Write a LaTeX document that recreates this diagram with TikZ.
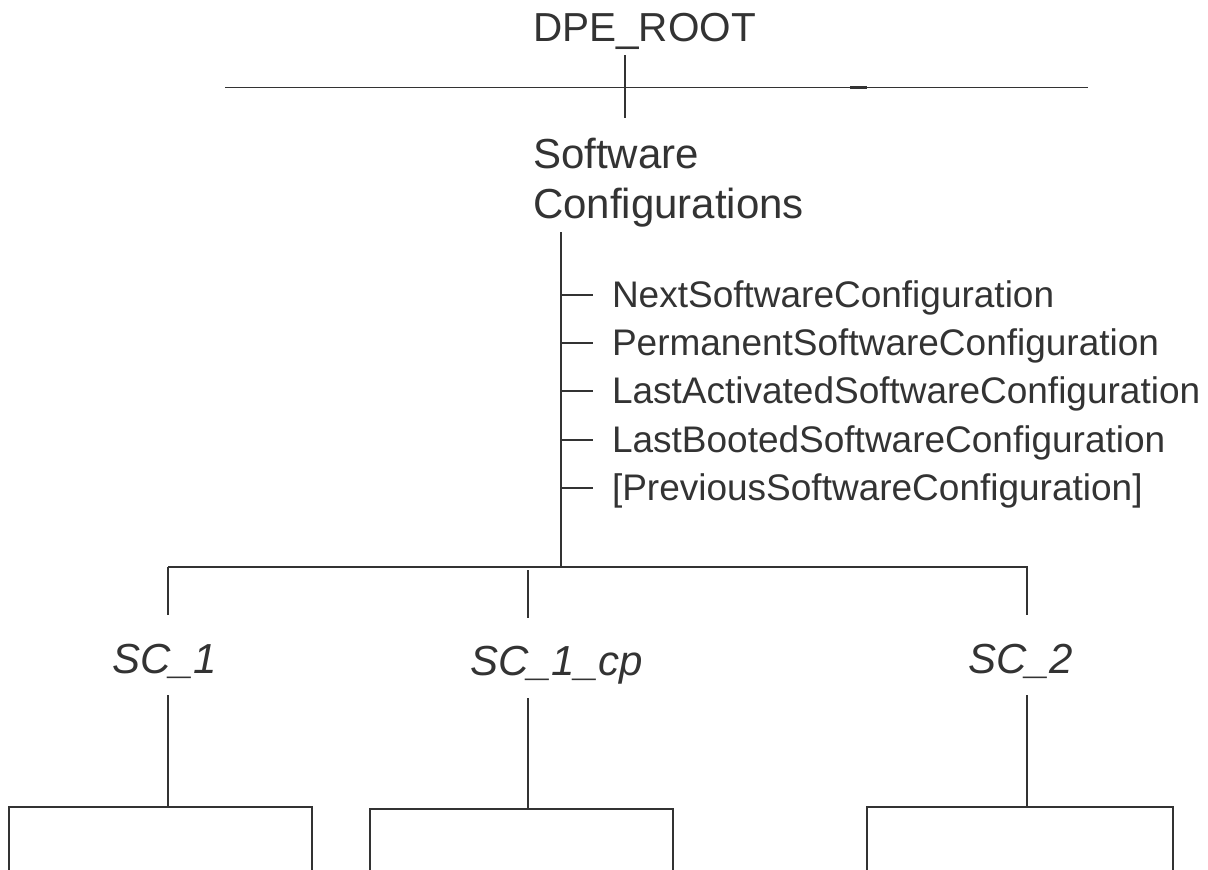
\documentclass[tikz,border=0pt]{standalone}
\usepackage{fontspec}
\setmainfont{Liberation Sans}
\definecolor{ink}{HTML}{333333}
\tikzset{
  lbl/.style={inner sep=0pt, outer sep=0pt, text=ink, anchor=base west},
  big/.style={font=\fontsize{42}{50}\selectfont},
  rootfont/.style={font=\fontsize{40.5}{48}\selectfont},
  itemfont/.style={font=\fontsize{37}{45}\selectfont},
  scfont/.style={font=\fontsize{42}{50}\selectfont\itshape},
  ln/.style={draw=ink, line width=1.6pt},
  box/.style={draw=ink, line width=1.8pt, inner sep=0pt, outer sep=0pt,
              minimum width=303pt, minimum height=120pt, anchor=north west},
}
\begin{document}
\begin{tikzpicture}[x=1pt,y=-1pt]
\clip (0,0) rectangle (1208,870);
% root
\node[lbl, rootfont] (root) at (533,41) {DPE\_ROOT};
\coordinate (hl) at (225,87.5);
\coordinate (hr) at (1088,87.5);
\draw[ln] (hl) -- (hr);
\coordinate (mk1) at (850,87.5);
\coordinate (mk2) at (867,87.5);
\draw[ln, line width=2.6pt] (mk1) -- (mk2);
\coordinate (rs) at (625,55);
\coordinate (re) at (625,118);
\draw[ln] (rs) -- (re);
% software configurations (base = baseline of last line)
\node[lbl, big, align=left] (sc) at (533,218) {Software\\Configurations};
\coordinate (st) at (561,232);
\coordinate (sb) at (561,567);
\draw[ln] (st) -- (sb);
% list items
\foreach \y/\name/\txt in {295/i1/NextSoftwareConfiguration,
                           343/i2/PermanentSoftwareConfiguration,
                           391/i3/LastActivatedSoftwareConfiguration,
                           440/i4/LastBootedSoftwareConfiguration,
                           488/i5/{[PreviousSoftwareConfiguration]}}{
  \node[lbl, itemfont] (\name) at (612,\y+12) {\txt};
  \coordinate (t\name) at (561,\y);
  \draw[ln] (t\name) -- ++(32,0);
}
% bar
\coordinate (bl) at (168,567);
\coordinate (br) at (1028,567);
\draw[ln] (bl) -- (br);
% labels
\node[lbl, scfont] (sc1) at (112,673) {SC\_1};
\node[lbl, scfont] (sc1cp) at (470,675) {SC\_1\_cp};
\node[lbl, scfont] (sc2) at (968,673) {SC\_2};
% drops
\coordinate (d1a) at (168,567);  \coordinate (d1b) at (168,615);
\coordinate (d2a) at (528,570);  \coordinate (d2b) at (528,618);
\coordinate (d3a) at (1027,567); \coordinate (d3b) at (1027,615);
\draw[ln] (d1a) -- (d1b);
\draw[ln] (d2a) -- (d2b);
\draw[ln] (d3a) -- (d3b);
% boxes
\node[box] (b1) at (9,807) {};
\node[box] (b2) at (370,809) {};
\node[box, minimum width=306pt] (b3) at (867,807) {};
\coordinate (e1) at (168,695);
\coordinate (e2) at (528,698);
\coordinate (e3) at (1027,695);
\draw[ln] (e1) -- (e1 |- b1.north);
\draw[ln] (e2) -- (e2 |- b2.north);
\draw[ln] (e3) -- (e3 |- b3.north);
\end{tikzpicture}
\end{document}
